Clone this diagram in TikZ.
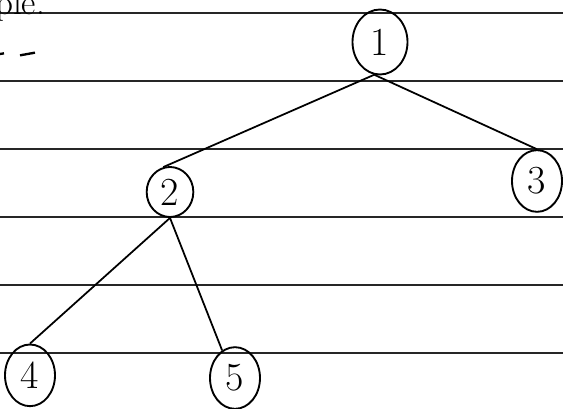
\documentclass[tikz,border=0pt]{standalone}
\usepackage{tikz}
\usetikzlibrary{shapes.geometric}
\tikzstyle{vertex} = [ellipse, draw=black, line width=1.6pt, minimum width=1.5cm, minimum height=1.85cm, inner sep=0pt, font=\fontsize{34}{36}\selectfont]
\tikzstyle{edge} = [line width=1.5pt, black]
\tikzstyle{rule} = [line width=1.8pt, black!85]

\begin{document}
\begin{tikzpicture}[node distance=4.5cm]

    \useasboundingbox (0,0) rectangle (16.89,-12.24);

    % Ruled paper
    \foreach \y in {0.39, 2.43, 4.47, 6.51, 8.55, 10.59}
        \draw [rule] (0,-\y) -- (16.89,-\y);

    % Heading scraps
    \node (heading) [anchor=base west, inner sep=0pt, font=\fontsize{30}{32}\selectfont] at (-0.15,-0.45) {ple.};
    \draw [edge, line width=2pt] (0,-1.62) -- (0.12,-1.6);
    \draw [edge, line width=2pt] (0.6,-1.66) -- (1.05,-1.58);

    % Nodes
    \node (one) [vertex, minimum width=1.65cm, minimum height=1.95cm] at (11.4,-1.26) {1};
    \node (two) [vertex, below of=one, xshift=-6.3cm, minimum width=1.4cm, minimum height=1.5cm] {2};
    \node (three) [vertex, below of=one, xshift=4.71cm, yshift=0.33cm] {3};
    \node (four) [vertex, below of=two, xshift=-4.2cm, yshift=-1cm] {4};
    \node (five) [vertex, below of=two, xshift=1.95cm, yshift=-1.08cm] {5};

    % Edges
    \draw [edge] (one.-100) -- (two.105);
    \draw [edge] (one.-100) -- (three.north);
    \draw [edge] (two.south) -- (four.north);
    \draw [edge] (two.south) -- (five.115);

\end{tikzpicture}
\end{document}
